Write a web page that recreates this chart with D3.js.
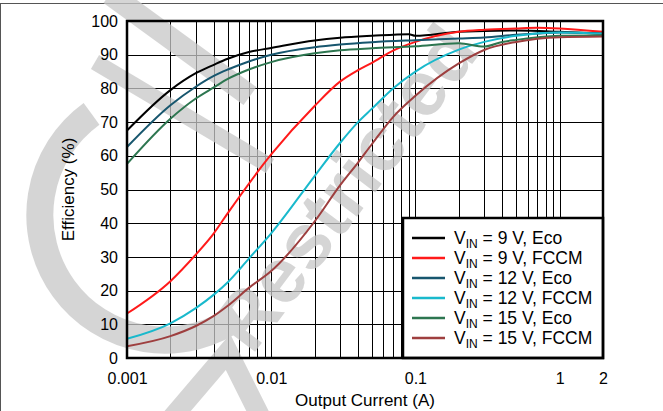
<!DOCTYPE html>
<meta charset="utf-8">
<style>
  body { margin: 0; background: #fff; }
  text { font-family: "Liberation Sans", Arial, sans-serif; fill: #000; }
  .grid line { stroke: #000; stroke-width: 1; shape-rendering: crispEdges; }
  .curve { fill: none; stroke-width: 2; }
  .wm { fill: none; stroke: #c8c8c8; }
</style>
<body>
<div id="chart"></div>
<script src="https://d3js.org/d3.v7.min.js"></script>
<script>
// series: output current (A) and efficiency (%)
var black9Eco_x = [0.001, 0.002, 0.003, 0.004, 0.005, 0.007, 0.01, 0.02, 0.03, 0.05, 0.09, 0.1, 0.2, 0.5, 1, 2];
var black9Eco_y = [67.5, 79.5, 84.5, 87, 88.8, 90.8, 92, 94.2, 95, 95.6, 96.1, 95.6, 96.8, 97.2, 96.8, 96.2];

var red9Fccm_x = [0.001, 0.002, 0.003, 0.004, 0.005, 0.01, 0.02, 0.03, 0.04, 0.05, 0.07, 0.1, 0.2, 0.3, 0.5, 0.7, 1, 2];
var red9Fccm_y = [13.2, 22.8, 30.7, 37, 43, 60.4, 74.8, 82, 85.4, 87.6, 91.2, 93.8, 96.8, 97.4, 97.8, 98, 97.8, 96.8];

var teal12Eco_x = [0.001, 0.002, 0.003, 0.004, 0.005, 0.007, 0.01, 0.02, 0.03, 0.05, 0.1, 0.2, 0.3, 0.5, 0.7, 1, 2];
var teal12Eco_y = [62.6, 75, 80.5, 83.7, 85.6, 88, 90, 92.2, 93, 93.7, 94.3, 94.8, 95.1, 95.9, 96.3, 96.6, 96.3];

var cyan12Fccm_x = [0.001, 0.002, 0.003, 0.004, 0.005, 0.007, 0.01, 0.02, 0.03, 0.04, 0.05, 0.07, 0.1, 0.2, 0.3, 0.5, 1, 2];
var cyan12Fccm_y = [5.7, 10.3, 14.8, 18.8, 22.5, 29.5, 37, 54, 63.8, 70, 74, 80, 85, 91.5, 93.8, 95.6, 96.6, 96.2];

var green15Eco_x = [0.001, 0.002, 0.003, 0.004, 0.005, 0.007, 0.01, 0.02, 0.03, 0.05, 0.1, 0.2, 0.3, 0.4, 0.5, 1, 2];
var green15Eco_y = [57.6, 71, 77, 80.3, 82.8, 85.6, 87.8, 90.4, 91.3, 91.9, 92.5, 93.4, 92.4, 93.8, 94.4, 95.6, 95.8];

var brown15Fccm_x = [0.001, 0.002, 0.003, 0.004, 0.005, 0.007, 0.01, 0.02, 0.03, 0.04, 0.05, 0.07, 0.1, 0.2, 0.3, 0.5, 1, 2];
var brown15Fccm_y = [3.5, 6.5, 9.5, 12.5, 15.5, 20.8, 25.8, 40.5, 51.2, 58, 63.5, 71.5, 77.8, 87.4, 91.4, 93.8, 95.2, 95.4];

var legendVin = ["9", "9", "12", "12", "15", "15"];
var legendMode = ["Eco", "FCCM", "Eco", "FCCM", "Eco", "FCCM"];

var xTicks = [0.001, 0.01, 0.1, 1, 2];
var yTicks = [0, 10, 20, 30, 40, 50, 60, 70, 80, 90, 100];

var series = [
    {x: black9Eco_x, y: black9Eco_y, color: "#000000"},
    {x: red9Fccm_x, y: red9Fccm_y, color: "#ff1a1a"},
    {x: teal12Eco_x, y: teal12Eco_y, color: "#17566e"},
    {x: cyan12Fccm_x, y: cyan12Fccm_y, color: "#19b9cc"},
    {x: green15Eco_x, y: green15Eco_y, color: "#2d7650"},
    {x: brown15Fccm_x, y: brown15Fccm_y, color: "#9e3f3f"}
];

var W = 663, H = 411;
var margin = {top: 21, right: 60, bottom: 53, left: 127};
var width = W - margin.left - margin.right,
    height = H - margin.top - margin.bottom;

var root = d3.select("#chart").append("svg")
    .attr("width", W)
    .attr("height", H);

// page frame lines
root.append("line").attr("x1", 0).attr("x2", W).attr("y1", 3.5).attr("y2", 3.5)
    .attr("stroke", "#555").attr("stroke-width", 1);
root.append("line").attr("x1", 0.5).attr("x2", 0.5).attr("y1", 3).attr("y2", H)
    .attr("stroke", "#555").attr("stroke-width", 1);

var svg = root.append("g")
    .attr("transform", "translate(" + margin.left + "," + margin.top + ")");

var x = d3.scaleLog().domain([0.001, 2]).range([0, width]);
var y = d3.scaleLinear().domain([0, 100]).range([height, 0]);

// grid: every 1..9 per decade
var minor = [];
[0.001, 0.01, 0.1, 1].forEach(function (d) {
    for (var k = 1; k <= 9; k++) {
        var v = d * k;
        if (v > 0.001 && v < 2) minor.push(v);
    }
});

var grid = svg.append("g").attr("class", "grid");
grid.selectAll(".vx").data(minor).enter().append("line")
    .attr("x1", function (d) { return Math.round(x(d)) + 0.5; })
    .attr("x2", function (d) { return Math.round(x(d)) + 0.5; })
    .attr("y1", 0).attr("y2", height);
grid.selectAll(".hy").data(yTicks.slice(1, -1)).enter().append("line")
    .attr("y1", function (d) { return Math.round(y(d)) + 0.5; })
    .attr("y2", function (d) { return Math.round(y(d)) + 0.5; })
    .attr("x1", 0).attr("x2", width);

// grey watermark (page coordinates)
var wm = svg.append("g")
    .attr("transform", "translate(" + (-margin.left) + "," + (-margin.top) + ")")
    .attr("opacity", 0.75);
wm.append("path").attr("class", "wm")
    .attr("transform", "translate(165,215)")
    .attr("stroke-width", 27)
    .attr("d", d3.arc()({innerRadius: 125, outerRadius: 125, startAngle: 0.8 * Math.PI, endAngle: 1.8 * Math.PI}));
wm.append("line").attr("class", "wm").attr("stroke-width", 22)
    .attr("x1", 110).attr("y1", -6).attr("x2", 250).attr("y2", 96);
wm.append("line").attr("class", "wm").attr("stroke-width", 16)
    .attr("x1", 95).attr("y1", 62).attr("x2", 270).attr("y2", 166);
wm.append("text")
    .attr("transform", "translate(252,356) rotate(-53)")
    .style("font-size", "78px").style("font-weight", "bold").style("fill", "#c8c8c8")
    .text("Restricted");
wm.append("path").attr("class", "wm").attr("stroke-width", 20)
    .attr("stroke-linejoin", "miter")
    .attr("d", "M170,420 L228,352 L262,420");

var line = d3.line()
    .x(function (d) { return x(d[0]); })
    .y(function (d) { return y(d[1]); })
    .curve(d3.curveMonotoneX);

svg.selectAll(".curve").data(series).enter().append("path")
    .attr("class", "curve")
    .attr("stroke", function (d) { return d.color; })
    .attr("d", function (d) { return line(d3.zip(d.x, d.y)); });

// legend
var lg = svg.append("g").attr("transform", "translate(" + (width - 200) + "," + (height - 140) + ")");
lg.append("rect").attr("width", 200).attr("height", 140)
    .attr("fill", "#fff").attr("stroke", "#000").attr("stroke-width", 2.5);
var item = lg.selectAll(".item").data(series).enter().append("g")
    .attr("transform", function (d, i) { return "translate(0," + (20 + i * 20) + ")"; });
item.append("line").attr("x1", 9).attr("x2", 42)
    .attr("stroke", function (d) { return d.color; }).attr("stroke-width", 2.5);
var t = item.append("text").attr("x", 51).attr("y", 5.5).style("font-size", "17.5px");
t.append("tspan").text("V");
t.append("tspan").text("IN").style("font-size", "12px").attr("dy", 4);
t.append("tspan").attr("dy", -4).text(function (d, i) {
    return " = " + legendVin[i] + " V, " + legendMode[i];
});

// axes (labels only)
svg.append("g")
    .attr("transform", "translate(0," + height + ")")
    .call(d3.axisBottom(x).tickValues(xTicks).tickSize(0).tickPadding(15)
        .tickFormat(function (d) { return String(d); }))
    .call(function (g) { g.select(".domain").remove(); })
    .selectAll("text").style("font-size", "16px").attr("font-family", null);

svg.append("g")
    .call(d3.axisLeft(y).tickValues(yTicks).tickSize(0).tickPadding(9))
    .call(function (g) { g.select(".domain").remove(); })
    .selectAll("text").style("font-size", "16px").attr("font-family", null);

// plot frame
svg.append("rect").attr("width", width).attr("height", height)
    .attr("fill", "none").attr("stroke", "#000").attr("stroke-width", 2.5);

svg.append("text")
    .attr("x", width / 2).attr("y", height + 48)
    .attr("text-anchor", "middle").style("font-size", "17px")
    .text("Output Current (A)");

svg.append("text")
    .attr("transform", "translate(-53," + (height / 2) + ") rotate(-90)")
    .attr("text-anchor", "middle").style("font-size", "17px")
    .text("Efficiency (%)");
</script>
</body>
